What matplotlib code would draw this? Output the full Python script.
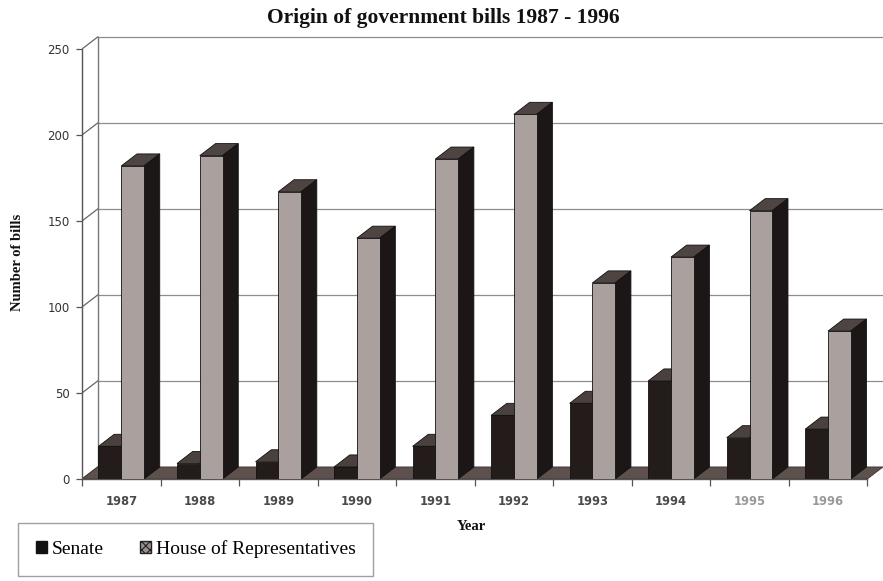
import matplotlib
matplotlib.use("Agg")
import matplotlib.pyplot as plt
from matplotlib.patches import Polygon, Patch

years = ["1987", "1988", "1989", "1990", "1991", "1992", "1993", "1994", "1995", "1996"]
senate = [19, 9, 10, 7, 19, 37, 44, 57, 24, 29]
house = [182, 188, 167, 140, 186, 212, 114, 129, 156, 86]
y_ticks = [0, 50, 100, 150, 200, 250]
series_names = ["Senate", "House of Representatives"]
title = "Origin of government bills 1987 - 1996"

W, H = 883, 581
fig = plt.figure(figsize=(W / 100, H / 100), dpi=100)
fig.patch.set_facecolor("white")

# axes placement in pixels
left_px, right_px, zero_px, ppu = 82, 883, 479, 1.72
ytop = 258
ax = fig.add_axes([left_px / W, (H - zero_px) / H, (right_px - left_px) / W, ytop * ppu / H])
n = len(years)
DX, DY = 0.2, 7.0
ax.set_xlim(0, n + DX)
ax.set_ylim(0, ytop)
ax.set_facecolor("none")
for s in ["top", "right"]:
    ax.spines[s].set_visible(False)
ax.spines["left"].set_bounds(0, 250)
ax.spines["bottom"].set_bounds(0, n)
for s in ["left", "bottom"]:
    ax.spines[s].set_color("#555555")
    ax.spines[s].set_linewidth(1.0)

grid_c = "#8e8e8e"
# back wall gridlines and side-wall diagonals
for v in y_ticks:
    if v > 0:
        ax.plot([DX, n + DX], [v + DY, v + DY], color=grid_c, lw=0.9, zorder=1)
    ax.plot([0, DX], [v, v + DY], color="#666666", lw=0.9, zorder=1)
ax.plot([DX, DX], [DY, 250 + DY], color="#777777", lw=1.0, zorder=1)

# floor
floor = Polygon([(0, 0), (n, 0), (n + DX, DY), (DX, DY)], closed=True,
                facecolor="#5e514d", edgecolor="#3a3230", lw=0.6, zorder=2)
ax.add_patch(floor)

bw = 0.29
def box(x0, val, front, side, top):
    # top face
    ax.add_patch(Polygon([(x0, val), (x0 + bw, val), (x0 + bw + DX, val + DY), (x0 + DX, val + DY)],
                         closed=True, facecolor=top, edgecolor="#111111", lw=0.6, zorder=3))
    # side face
    ax.add_patch(Polygon([(x0 + bw, 0), (x0 + bw + DX, DY), (x0 + bw + DX, val + DY), (x0 + bw, val)],
                         closed=True, facecolor=side, edgecolor="#111111", lw=0.6, zorder=3))
    # front face
    ax.add_patch(Polygon([(x0, 0), (x0 + bw, 0), (x0 + bw, val), (x0, val)],
                         closed=True, facecolor=front, edgecolor="#111111", lw=0.6, zorder=3))

for i in range(n):
    box(i + 0.21, senate[i], "#231c1a", "#1a1414", "#4a403d")
    box(i + 0.50, house[i], "#aaa19e", "#1c1716", "#4e4441")

# ticks
ax.set_yticks(y_ticks)
ax.set_yticklabels([str(v) for v in y_ticks])
ax.tick_params(axis="y", direction="out", length=4.5, width=0.9, color="#555555",
               pad=4.3, labelsize=8.5, labelcolor="#333333")
ax.set_xticks(range(n + 1))
ax.set_xticklabels([])
ax.set_xticks([i + 0.5 for i in range(n)], minor=True)
ax.set_xticklabels(years, minor=True, fontweight="bold")
ax.tick_params(axis="x", which="major", direction="out", length=5, width=0.9, color="#555555")
ax.tick_params(axis="x", which="minor", length=0, pad=11.5, labelsize=8.3)
for k, lab in enumerate(ax.get_xticklabels(minor=True)):
    lab.set_color("#4a4a4a" if k < 8 else "#999999")

serif = ["Liberation Serif", "DejaVu Serif"]
fig.text(443 / W, 1 - 23 / H, title, ha="center", va="baseline", fontsize=15.5,
         fontweight="bold", family=serif, color="#111111")
fig.text(18 / W, 1 - 262 / H, "Number of bills", rotation=90, ha="center", va="center",
         fontsize=10.5, fontweight="bold", family=serif, color="#111111")
fig.text(471 / W, 1 - 527 / H, "Year", ha="center", va="center",
         fontsize=10.5, fontweight="bold", family=serif, color="#111111")

plt.rcParams["hatch.linewidth"] = 0.8
handles = [Patch(facecolor="#111111", edgecolor="#111111"),
           Patch(facecolor="#9a908c", edgecolor="#222222", hatch="xxxx")]
leg = fig.legend(handles, series_names, loc="upper left",
                 bbox_to_anchor=(18 / W, 1 - 522.7 / H), bbox_transform=fig.transFigure,
                 borderaxespad=0, ncol=2, frameon=True, fancybox=False,
                 prop={"family": serif, "size": 14}, borderpad=0.9,
                 handlelength=0.57, handleheight=0.57, handletextpad=0.26,
                 columnspacing=1.85)
leg.get_frame().set_edgecolor("#888888")
leg.get_frame().set_linewidth(1.0)

fig.savefig("out.png", dpi=100)
